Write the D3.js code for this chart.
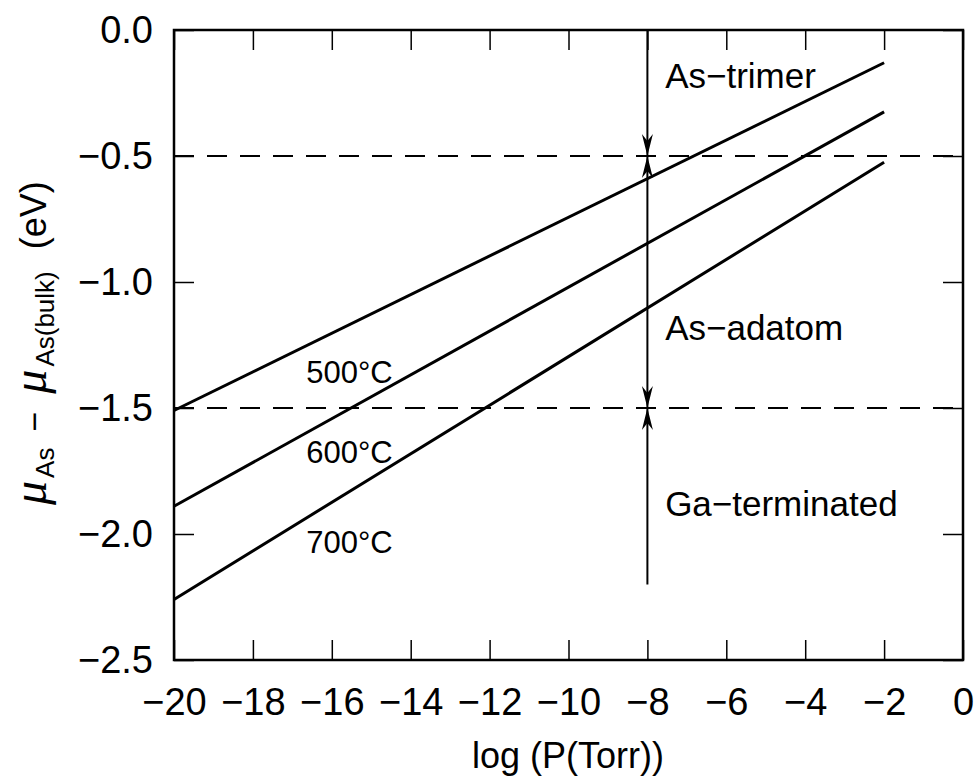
<!DOCTYPE html>
<html><head><meta charset="utf-8">
<script src="https://cdn.jsdelivr.net/npm/d3@7/dist/d3.min.js"></script>
<style>
html,body{margin:0;padding:0;background:#fff;}
svg{display:block;font-family:"Liberation Sans",Arial,sans-serif;}
</style></head>
<body>
<svg id="c" width="979" height="782"></svg>
<script>
// ---- data ----
const logP = [-20, -2];                 // x endpoints of each line
const temperatures = ["500°C", "600°C", "700°C"];
const mu500 = [-1.51, -0.13];
const mu600 = [-1.89, -0.325];
const mu700 = [-2.26, -0.525];
const boundaries = [-0.5, -1.5];
const phaseLabels = ["As−trimer", "As−adatom", "Ga−terminated"];
const xTicks = [-20, -18, -16, -14, -12, -10, -8, -6, -4, -2, 0];
const yTicks = [0.0, -0.5, -1.0, -1.5, -2.0, -2.5];
const arrowX = -8;
const arrowRange = [0.0, -2.2];

// ---- layout ----
const svg = d3.select("#c");
const L = 174, R = 963, T = 30, B = 660;
const x = d3.scaleLinear().domain([-20, 0]).range([L, R]);
const y = d3.scaleLinear().domain([-2.5, 0]).range([B, T]);

const fmtY = d3.format(".1f");

// frame
svg.append("rect").attr("x", L).attr("y", T).attr("width", R - L).attr("height", B - T)
  .attr("fill", "none").attr("stroke", "#000").attr("stroke-width", 2.5);

// axes
const axB = svg.append("g").attr("transform", `translate(0,${B})`)
  .call(d3.axisBottom(x).tickValues(xTicks).tickSize(-20).tickPadding(28).tickFormat(d3.format("d")));
const axT = svg.append("g").attr("transform", `translate(0,${T})`)
  .call(d3.axisTop(x).tickValues(xTicks).tickSize(-20).tickFormat(""));
const axL = svg.append("g").attr("transform", `translate(${L},0)`)
  .call(d3.axisLeft(y).tickValues(yTicks).tickSize(-20).tickPadding(21).tickFormat(fmtY));
const axR = svg.append("g").attr("transform", `translate(${R},0)`)
  .call(d3.axisRight(y).tickValues(yTicks).tickSize(-20).tickFormat(""));
[axB, axT, axL, axR].forEach(g => {
  g.select(".domain").remove();
  g.selectAll(".tick line").attr("stroke", "#000").attr("stroke-width", 1.5);
  g.selectAll(".tick text").attr("fill", "#000").style("font-size", "38px")
    .style("font-family", '"Liberation Sans",Arial,sans-serif');
});

// dashed phase boundaries
svg.selectAll(".bnd").data(boundaries).enter().append("line")
  .attr("x1", L).attr("x2", R).attr("y1", d => y(d)).attr("y2", d => y(d))
  .attr("stroke", "#000").attr("stroke-width", 2).attr("stroke-dasharray", "20,13");

// temperature lines
const series = [mu500, mu600, mu700];
const line = d3.line().x(d => x(d[0])).y(d => y(d[1]));
svg.selectAll(".ln").data(series).enter().append("path")
  .attr("d", s => line(logP.map((p, i) => [p, s[i]])))
  .attr("fill", "none").attr("stroke", "#000").attr("stroke-width", 3);

// temperature labels
const tPos = [[-16.65, -1.40], [-16.65, -1.72], [-16.65, -2.075]];
svg.selectAll(".tl").data(temperatures).enter().append("text")
  .attr("x", (d, i) => x(tPos[i][0])).attr("y", (d, i) => y(tPos[i][1]))
  .style("font-size", "31px").text(d => d);

// vertical arrow line
svg.append("line").attr("x1", x(arrowX)).attr("x2", x(arrowX))
  .attr("y1", y(arrowRange[0])).attr("y2", y(arrowRange[1]))
  .attr("stroke", "#000").attr("stroke-width", 2);

// arrowheads: pointing down (from above) and up (from below) at each boundary
const heads = [];
boundaries.forEach(b => { heads.push({ v: b, dir: 1 }); heads.push({ v: b, dir: -1 }); });
svg.selectAll(".ah").data(heads).enter().append("path")
  .attr("transform", d => `translate(${x(arrowX)},${y(d.v)}) scale(1,${d.dir})`)
  .attr("d", "M0,0 L-5.5,-22 L0,-15 L5.5,-22 Z")
  .attr("fill", "#000");

// phase labels
const pPos = [[-7.55, -0.23], [-7.55, -1.23], [-7.55, -1.93]];
svg.selectAll(".pl").data(phaseLabels).enter().append("text")
  .attr("x", (d, i) => x(pPos[i][0])).attr("y", (d, i) => y(pPos[i][1]))
  .style("font-size", "35px").text(d => d);

// x-axis title
svg.append("text").attr("x", 568).attr("y", 768).attr("text-anchor", "middle")
  .style("font-size", "36px").text("log (P(Torr))");

// y-axis title
const yt = svg.append("text").attr("transform", "translate(46,505) rotate(-90)")
  .attr("text-anchor", "start");
yt.append("tspan").style("font-size", "48px").style("font-style", "italic")
  .style("font-family", '"Liberation Serif",serif').text("μ");
yt.append("tspan").style("font-size", "26px").attr("dy", 8).attr("dx", 3).text("As");
yt.append("tspan").style("font-size", "34px").attr("dy", -8).attr("dx", 16).text("−");
yt.append("tspan").style("font-size", "48px").style("font-style", "italic").attr("dx", 18)
  .style("font-family", '"Liberation Serif",serif').text("μ");
yt.append("tspan").style("font-size", "26px").attr("dy", 8).attr("dx", 3).text("As(bulk)");
yt.append("tspan").style("font-size", "36px").attr("dy", -8).attr("dx", 22).text("(eV)");
</script>
</body></html>
